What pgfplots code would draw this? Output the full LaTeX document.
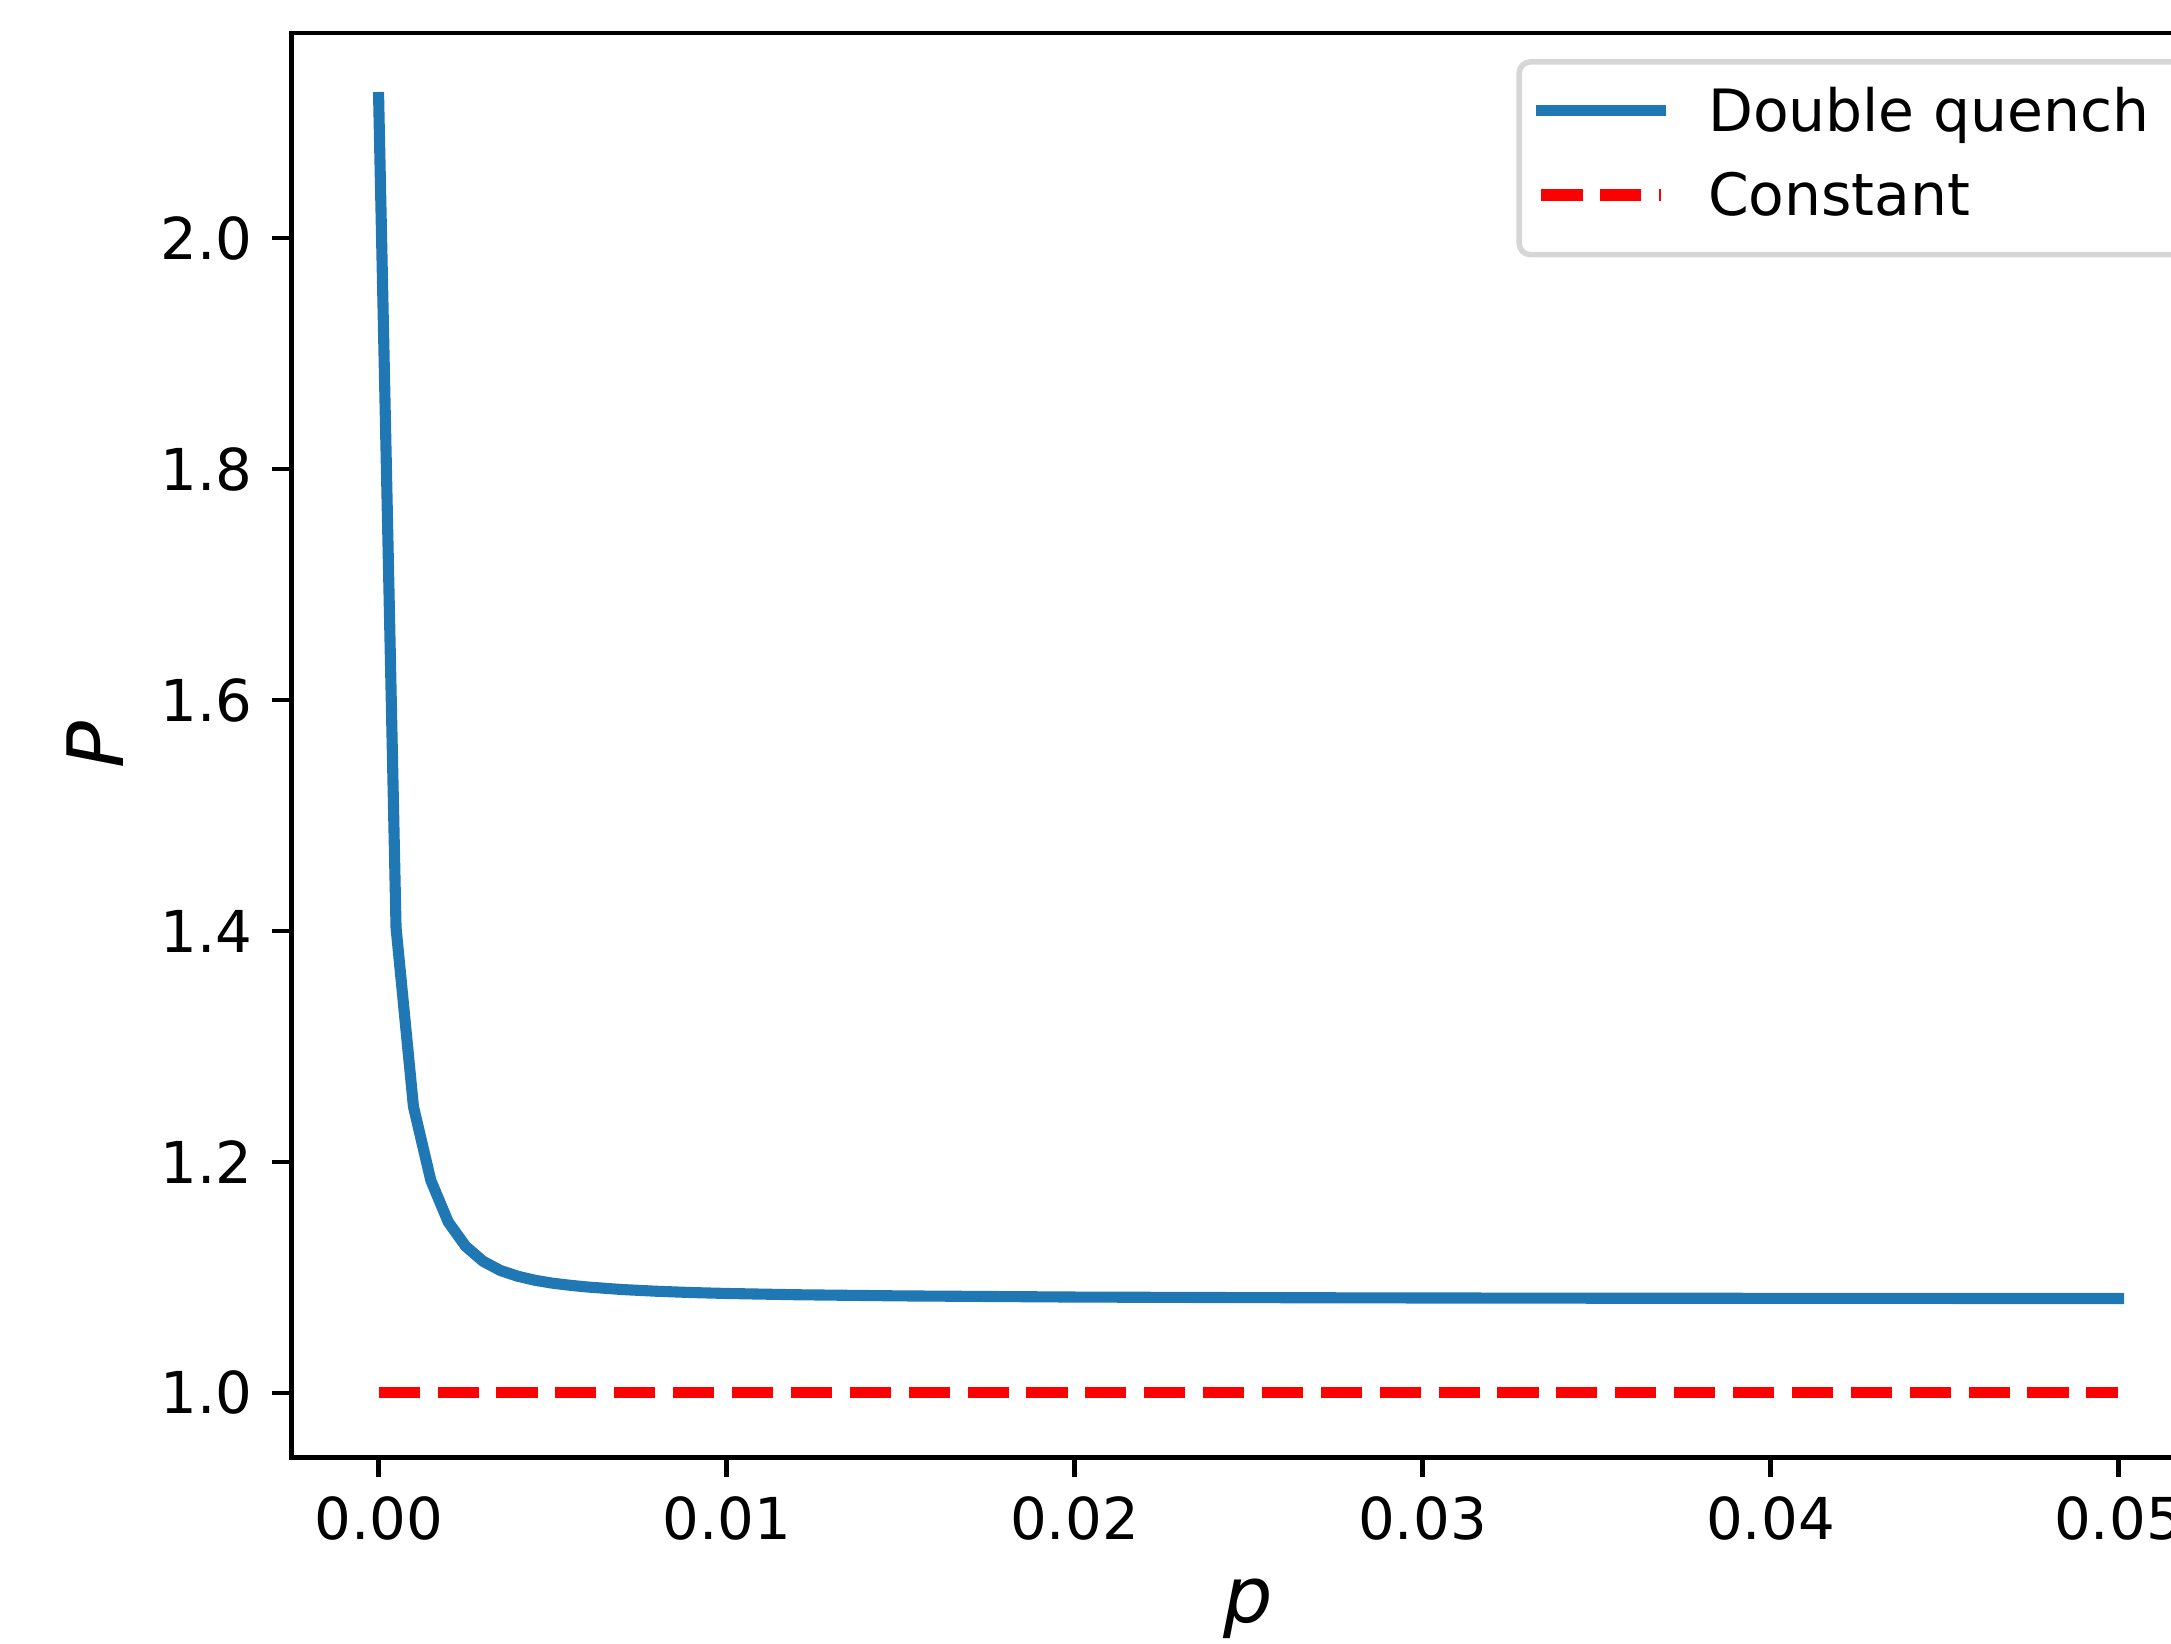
\documentclass[border=0pt]{standalone}
\usepackage{fontspec}
\setmainfont{DejaVu Sans}
\usepackage{pgfplots}
\pgfplotsset{compat=1.18}

\definecolor{mplblue}{HTML}{1F77B4}
\definecolor{legframe}{HTML}{D6D6D6}

\pgfplotstableread{
x y
0 2.1218
0.0005 1.403
0.001 1.248
0.0015 1.184
0.002 1.148
0.0025 1.127
0.003 1.114
0.0035 1.106
0.004 1.101
0.0045 1.0975
0.005 1.0950
0.0055 1.0932
0.006 1.0917
0.007 1.0895
0.008 1.0880
0.009 1.0869
0.010 1.0861
0.012 1.0850
0.015 1.0840
0.020 1.0830
0.025 1.0825
0.030 1.0822
0.035 1.0820
0.040 1.0819
0.045 1.0818
0.050 1.0817
}\dq

\pgfplotstableread{
x y
0 1
0.05 1
}\const

\begin{document}
\begin{tikzpicture}
\useasboundingbox (-52.5pt,-33.5pt) rectangle (338.3pt,262.4pt);
\clip (-52.5pt,-33.5pt) rectangle (338.3pt,262.4pt);
\begin{axis}[
  scale only axis, width=344.5pt, height=256.5pt,
  xmin=-0.0025, xmax=0.0525, ymin=0.9439, ymax=2.1779,
  axis line style={line width=0.8pt},
  tick align=outside, tick pos=left,
  major tick length=3.5pt, every tick/.style={black, line width=0.8pt},
  tick label style={font=\fontsize{10.4}{12.5}\selectfont},
  xtick={0,0.01,0.02,0.03,0.04,0.05},
  ytick={1,1.2,1.4,1.6,1.8,2},
  scaled x ticks=false,
  xticklabel style={/pgf/number format/fixed, /pgf/number format/fixed zerofill, /pgf/number format/precision=2},
  yticklabel style={/pgf/number format/fixed, /pgf/number format/fixed zerofill, /pgf/number format/precision=1},
  /pgf/number format/assume math mode=true,
  xlabel={\itshape p}, ylabel={\itshape P},
  label style={font=\fontsize{14}{17}\selectfont},
  xlabel style={at={(axis description cs:0.5,-0.1059)}, anchor=center, inner sep=0pt},
  ylabel style={at={(axis description cs:-0.1025,0.5)}, anchor=center, inner sep=0pt},
  legend style={at={(0.640,1)}, anchor=north west, yshift=-4.75pt,
    draw=legframe, line width=1pt, fill=white, rounded corners=2pt,
    font=\fontsize{10.5}{12.6}\selectfont,
    inner xsep=3pt, inner ysep=4.5pt, row sep=4.7pt, column sep=7.5pt,
    nodes={inner sep=0pt, text height=8pt, text depth=2.5pt}},
  legend cell align=left,
  legend image code/.code={\draw[#1] (0pt,1pt) -- (21.5pt,1pt);},
]
\addplot[mplblue, line width=2pt, line cap=rect, line join=round] table[x=x,y=y] {\dq};
\addlegendentry{Double quench\hspace*{4pt}}
\addplot[red, line width=2pt, dash pattern=on 7.4pt off 3.2pt] table[x=x,y=y] {\const};
\addlegendentry{Constant}
\end{axis}
\end{tikzpicture}
\end{document}
